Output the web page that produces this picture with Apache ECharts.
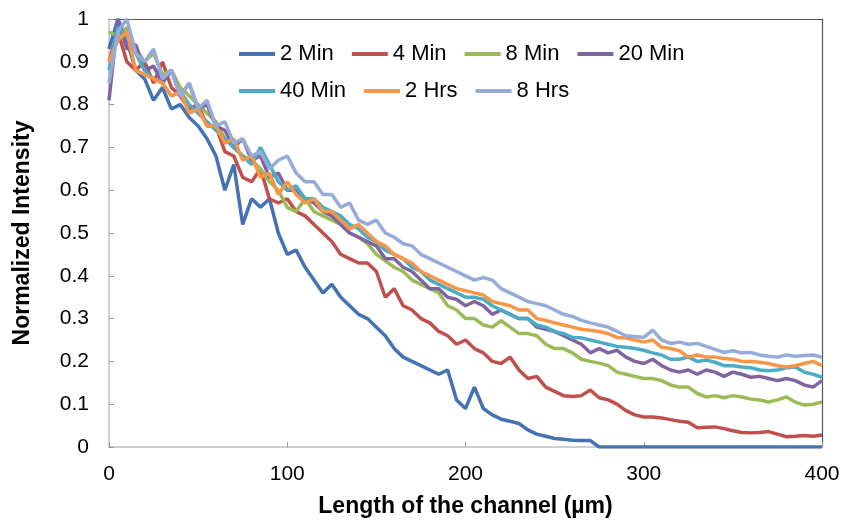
<!DOCTYPE html>
<html>
<head>
<meta charset="utf-8">
<title>Normalized Intensity</title>
<script src="https://cdn.jsdelivr.net/npm/echarts@6/dist/echarts.min.js"></script>
</head>
<body style="margin:0;background:#fff;">
<div id="main" style="width:844px;height:525px;"></div>
<script>
// sample positions along the channel (µm)
var xs = [0,5,10,15,20,25,30,35,40,45,
	50,55,60,65,70,75,80,85,90,95,
	100,105,110,115,120,125,130,135,140,145,
	150,155,160,165,170,175,180,185,190,195,
	200,205,210,215,220,225,230,235,240,245,
	250,255,260,265,270,275,280,285,290,295,
	300,305,310,315,320,325,330,335,340,345,
	350,355,360,365,370,375,380,385,390,395,
	400];

var names = ['2 Min','4 Min','8 Min','20 Min','40 Min','2 Hrs','8 Hrs'];
var colors = ['#4472B4','#C0504D','#9BBB59','#8064A2','#4BACC6','#F79646','#95ACD8'];

var min2 = [0.93,1.0,0.95,0.88,0.86,0.81,0.84,0.79,0.8,0.77,
	0.75,0.72,0.68,0.6,0.66,0.52,0.58,0.56,0.58,0.5,
	0.45,0.46,0.42,0.39,0.36,0.38,0.35,0.33,0.31,0.3,
	0.28,0.26,0.23,0.21,0.2,0.19,0.18,0.17,0.18,0.11,
	0.09,0.14,0.09,0.075,0.065,0.06,0.055,0.04,0.03,0.025,
	0.02,0.018,0.016,0.015,0.015,0,0,0,0,0,
	0,0,0,0,0,0,0,0,0,0,
	0,0,0,0,0,0,0,0,0,0,
	0];
var min4 = [0.9,0.97,0.9,0.88,0.9,0.85,0.9,0.84,0.82,0.79,
	0.8,0.75,0.75,0.69,0.68,0.63,0.62,0.65,0.58,0.57,
	0.58,0.55,0.54,0.52,0.5,0.48,0.45,0.44,0.43,0.43,
	0.41,0.35,0.37,0.33,0.32,0.3,0.29,0.27,0.26,0.24,
	0.25,0.23,0.22,0.2,0.195,0.21,0.18,0.16,0.165,0.14,
	0.13,0.12,0.118,0.12,0.133,0.115,0.11,0.1,0.085,0.075,
	0.07,0.07,0.068,0.064,0.06,0.058,0.045,0.046,0.047,0.043,
	0.038,0.034,0.033,0.034,0.036,0.03,0.024,0.025,0.027,0.025,
	0.028];
var min8 = [0.97,0.96,0.98,0.93,0.9,0.92,0.87,0.88,0.84,0.82,
	0.8,0.78,0.76,0.72,0.7,0.68,0.67,0.65,0.62,0.6,
	0.56,0.55,0.58,0.55,0.54,0.53,0.52,0.5,0.49,0.475,
	0.45,0.435,0.42,0.41,0.39,0.38,0.37,0.36,0.33,0.32,
	0.3,0.3,0.285,0.28,0.295,0.28,0.265,0.265,0.26,0.24,
	0.23,0.23,0.22,0.205,0.2,0.196,0.19,0.175,0.17,0.165,
	0.16,0.16,0.155,0.145,0.14,0.14,0.125,0.117,0.12,0.115,
	0.12,0.117,0.112,0.11,0.105,0.11,0.117,0.105,0.098,0.1,
	0.105];
var min20 = [0.81,1.0,0.93,0.94,0.88,0.89,0.85,0.88,0.82,0.85,
	0.79,0.8,0.75,0.74,0.7,0.72,0.67,0.68,0.63,0.64,
	0.6,0.6,0.58,0.57,0.55,0.54,0.52,0.5,0.49,0.48,
	0.47,0.44,0.44,0.42,0.41,0.39,0.37,0.37,0.35,0.345,
	0.33,0.34,0.33,0.31,0.32,0.31,0.3,0.3,0.28,0.275,
	0.27,0.26,0.25,0.24,0.22,0.23,0.22,0.226,0.21,0.2,
	0.195,0.205,0.19,0.18,0.175,0.18,0.17,0.18,0.175,0.165,
	0.175,0.17,0.163,0.165,0.16,0.155,0.16,0.155,0.145,0.14,
	0.155];
var min40 = [0.88,0.98,0.96,0.92,0.88,0.86,0.85,0.82,0.83,0.8,
	0.78,0.76,0.74,0.72,0.7,0.68,0.66,0.7,0.66,0.62,
	0.6,0.61,0.58,0.58,0.56,0.55,0.54,0.52,0.51,0.49,
	0.48,0.46,0.45,0.44,0.42,0.41,0.39,0.38,0.37,0.36,
	0.35,0.35,0.345,0.33,0.32,0.31,0.3,0.3,0.285,0.28,
	0.27,0.265,0.256,0.255,0.25,0.245,0.24,0.235,0.233,0.23,
	0.226,0.22,0.215,0.205,0.205,0.21,0.2,0.203,0.198,0.19,
	0.19,0.187,0.185,0.18,0.178,0.18,0.185,0.187,0.175,0.17,
	0.163];
var hrs2 = [0.9,0.95,0.97,0.88,0.87,0.86,0.85,0.82,0.83,0.78,
	0.79,0.75,0.75,0.71,0.72,0.67,0.68,0.63,0.64,0.59,
	0.62,0.59,0.57,0.58,0.55,0.55,0.53,0.51,0.52,0.5,
	0.48,0.47,0.45,0.44,0.43,0.41,0.4,0.39,0.38,0.37,
	0.365,0.36,0.355,0.34,0.335,0.33,0.32,0.32,0.3,0.296,
	0.29,0.285,0.28,0.275,0.273,0.27,0.265,0.256,0.255,0.25,
	0.245,0.25,0.233,0.23,0.225,0.21,0.215,0.21,0.21,0.207,
	0.205,0.2,0.2,0.198,0.195,0.19,0.187,0.19,0.195,0.2,
	0.19];
var hrs8 = [0.85,0.97,1.0,0.92,0.9,0.93,0.86,0.88,0.82,0.85,
	0.79,0.81,0.75,0.76,0.71,0.72,0.68,0.69,0.65,0.67,
	0.68,0.64,0.62,0.62,0.59,0.59,0.56,0.57,0.53,0.52,
	0.53,0.5,0.49,0.475,0.47,0.45,0.44,0.43,0.42,0.41,
	0.4,0.39,0.396,0.39,0.37,0.36,0.35,0.34,0.335,0.33,
	0.32,0.31,0.305,0.296,0.29,0.285,0.28,0.27,0.26,0.258,
	0.256,0.273,0.25,0.242,0.245,0.24,0.242,0.235,0.228,0.221,
	0.225,0.22,0.221,0.215,0.212,0.21,0.215,0.212,0.214,0.215,
	0.21];

var values = [min2, min4, min8, min20, min40, hrs2, hrs8];

function pairs(ys) {
	return xs.map(function (x, i) { return [x, ys[i]]; });
}

var font = '"Liberation Sans", Arial, sans-serif';

var series = [];
for (var i = 0; i < names.length; i++) {
	series.push({
		name: names[i],
		type: 'line',
		data: pairs(values[i]),
		showSymbol: false,
		symbol: 'none',
		lineStyle: { width: 3.5, color: colors[i] },
		itemStyle: { color: colors[i] },
		xAxisIndex: 0,
		yAxisIndex: 0
	});
}

var legendBase = {
	left: 234,
	icon: 'rect',
	itemWidth: 36,
	itemHeight: 4,
	itemGap: 18,
	textStyle: { fontSize: 22, color: '#000', fontFamily: font, width: 71 }
};

var myChart = echarts.init(document.getElementById('main'));
var option = {
	animation: false,
	backgroundColor: '#fff',
	grid: { left: 109, right: 22, top: 19, bottom: 78 },
	legend: [
		Object.assign({}, legendBase, { top: 38, data: names.slice(0, 4) }),
		Object.assign({}, legendBase, { top: 75, data: names.slice(4) })
	],
	xAxis: [{
		type: 'value',
		min: 0, max: 400, interval: 100,
		name: 'Length of the channel (µm)',
		nameLocation: 'middle',
		nameGap: 48,
		nameTextStyle: { fontSize: 23, fontWeight: 'bold', color: '#000', fontFamily: font },
		axisLine: { lineStyle: { color: '#BFBFBF', width: 1.5 } },
		axisTick: { inside: true, length: 5, lineStyle: { color: '#999' } },
		axisLabel: { fontSize: 21, color: '#000', fontFamily: font, margin: 17 },
		splitLine: { show: false }
	}, {
		type: 'value', position: 'top',
		min: 0, max: 400,
		axisLine: { show: true, onZero: false, lineStyle: { color: '#555', width: 1.2 } },
		axisTick: { show: false }, axisLabel: { show: false }, splitLine: { show: false }
	}],
	yAxis: [{
		type: 'value',
		min: 0, max: 1, interval: 0.1,
		name: 'Normalized Intensity',
		nameLocation: 'middle',
		nameGap: 75,
		nameTextStyle: { fontSize: 23, fontWeight: 'bold', color: '#000', fontFamily: font },
		axisLine: { show: true, lineStyle: { color: '#BFBFBF', width: 1.5 } },
		axisTick: { show: true, inside: true, length: 5, lineStyle: { color: '#999' } },
		axisLabel: { fontSize: 21, color: '#000', fontFamily: font, margin: 20,
			formatter: function (v) { return String(Math.round(v * 10) / 10); } },
		splitLine: { show: false }
	}, {
		type: 'value', position: 'right',
		min: 0, max: 1,
		axisLine: { show: true, onZero: false, lineStyle: { color: '#555', width: 1.2 } },
		axisTick: { show: false }, axisLabel: { show: false }, splitLine: { show: false }
	}],
	series: series
};
myChart.setOption(option);
</script>
</body>
</html>
